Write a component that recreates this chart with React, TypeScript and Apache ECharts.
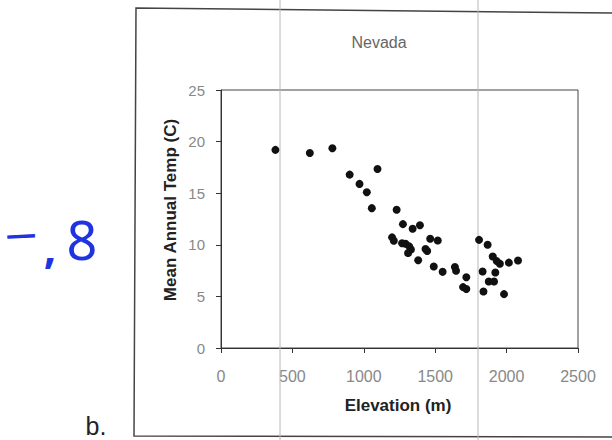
import React, { useEffect, useRef } from "react";
import * as echarts from "echarts";

const elevation = [
  381, 622, 780, 901, 970, 1021, 1056, 1096, 1230, 1274, 1342, 1393,
  1198, 1210, 1268, 1292, 1318, 1330, 1310, 1432, 1444, 1381, 1465, 1518,
  1490, 1552, 1638, 1646, 1718, 1695, 1718, 1807, 1867, 1832, 1838, 1903,
  1931, 1953, 1921, 1875, 1912, 2016, 2080, 1982,
];
const temperature = [
  19.2, 18.9, 19.35, 16.8, 15.9, 15.1, 13.55, 17.35, 13.4, 12.0, 11.55, 11.9,
  10.72, 10.4, 10.15, 10.1, 9.85, 9.55, 9.2, 9.6, 9.4, 8.5, 10.58, 10.42,
  7.9, 7.38, 7.85, 7.48, 6.85, 5.9, 5.72, 10.48, 10.0, 7.42, 5.48, 8.87,
  8.42, 8.16, 7.32, 6.45, 6.45, 8.27, 8.48, 5.22,
];
const xTicks = { min: 0, max: 2500, interval: 500 };
const yTicks = { min: 0, max: 25, interval: 5 };
const titleText = "Nevada";
const xTitle = "Elevation (m)";
const yTitle = "Mean Annual Temp (C)";

export default function App() {
  const ref = useRef<HTMLDivElement>(null);
  useEffect(() => {
    if (!ref.current) return;
    const chart = echarts.init(ref.current, undefined, { renderer: "svg" });
    const data = elevation.map((e, i) => [e, temperature[i]]);
    const font = "'Liberation Sans', Arial, sans-serif";
    const hand = "'Noto Sans', 'DejaVu Sans', sans-serif";
    chart.setOption({
      animation: false,
      backgroundColor: "#ffffff",
      grid: {
        left: 221,
        top: 90,
        width: 357,
        height: 258,
        show: true,
        borderColor: "#444",
        borderWidth: 1,
      },
      xAxis: {
        type: "value",
        ...xTicks,
        axisLine: { show: true, lineStyle: { color: "#333", width: 1 } },
        axisTick: { show: true, length: 5, inside: false, lineStyle: { color: "#333" } },
        splitLine: { show: false },
        axisLabel: {
          color: "#888",
          fontSize: 16,
          fontFamily: font,
          margin: 20,
          formatter: (v: number) => String(v),
        },
      },
      yAxis: {
        type: "value",
        ...yTicks,
        axisLine: { show: true, lineStyle: { color: "#333", width: 1 } },
        axisTick: { show: true, length: 5, inside: false, lineStyle: { color: "#333" } },
        splitLine: { show: false },
        axisLabel: {
          color: "#888",
          fontSize: 15,
          fontFamily: font,
          margin: 16,
          formatter: (v: number) => String(v),
        },
      },
      series: [
        {
          type: "scatter",
          data,
          symbol: "circle",
          symbolSize: 8,
          itemStyle: { color: "#111", opacity: 1 },
        },
      ],
      graphic: [
        {
          type: "polyline",
          shape: { points: [[612, 13], [136, 8], [134, 436], [612, 437]] },
          style: { stroke: "#444", lineWidth: 1.5, fill: null },
          z: 1,
        },
        {
          type: "line",
          shape: { x1: 280, y1: 0, x2: 280, y2: 440 },
          style: { stroke: "#b8b8b8", lineWidth: 1 },
          z: 1,
        },
        {
          type: "line",
          shape: { x1: 478, y1: 0, x2: 478, y2: 440 },
          style: { stroke: "#b8b8b8", lineWidth: 1 },
          z: 1,
        },
        {
          type: "text",
          x: 379,
          y: 42,
          style: {
            text: titleText,
            fill: "#666",
            font: `16px ${font}`,
            textAlign: "center",
            textVerticalAlign: "middle",
          },
        },
        {
          type: "text",
          x: 398,
          y: 405,
          style: {
            text: xTitle,
            fill: "#222",
            font: `bold 17px ${font}`,
            textAlign: "center",
            textVerticalAlign: "middle",
          },
        },
        {
          type: "text",
          x: 170,
          y: 210,
          rotation: Math.PI / 2,
          style: {
            text: yTitle,
            fill: "#222",
            font: `bold 17px ${font}`,
            textAlign: "center",
            textVerticalAlign: "middle",
          },
        },
        {
          type: "text",
          x: 21,
          y: 233,
          rotation: 0.05,
          style: {
            text: "—",
            fill: "#1f34e0",
            font: `bold 30px ${hand}`,
            textAlign: "center",
            textVerticalAlign: "middle",
          },
        },
        {
          type: "text",
          x: 50,
          y: 246,
          style: {
            text: ",",
            fill: "#1f34e0",
            font: `bold 44px ${hand}`,
            textAlign: "center",
            textVerticalAlign: "middle",
          },
        },
        {
          type: "text",
          x: 82,
          y: 239,
          style: {
            text: "8",
            fill: "#1f34e0",
            font: `54px ${hand}`,
            textAlign: "center",
            textVerticalAlign: "middle",
          },
        },
        {
          type: "text",
          x: 96,
          y: 426,
          style: {
            text: "b.",
            fill: "#222",
            font: `25px ${font}`,
            textAlign: "center",
            textVerticalAlign: "middle",
          },
        },
      ],
    });
    return () => chart.dispose();
  }, []);
  return (
    <div
      ref={ref}
      style={{ position: "absolute", left: 0, top: 0, width: 612, height: 440 }}
    />
  );
}
